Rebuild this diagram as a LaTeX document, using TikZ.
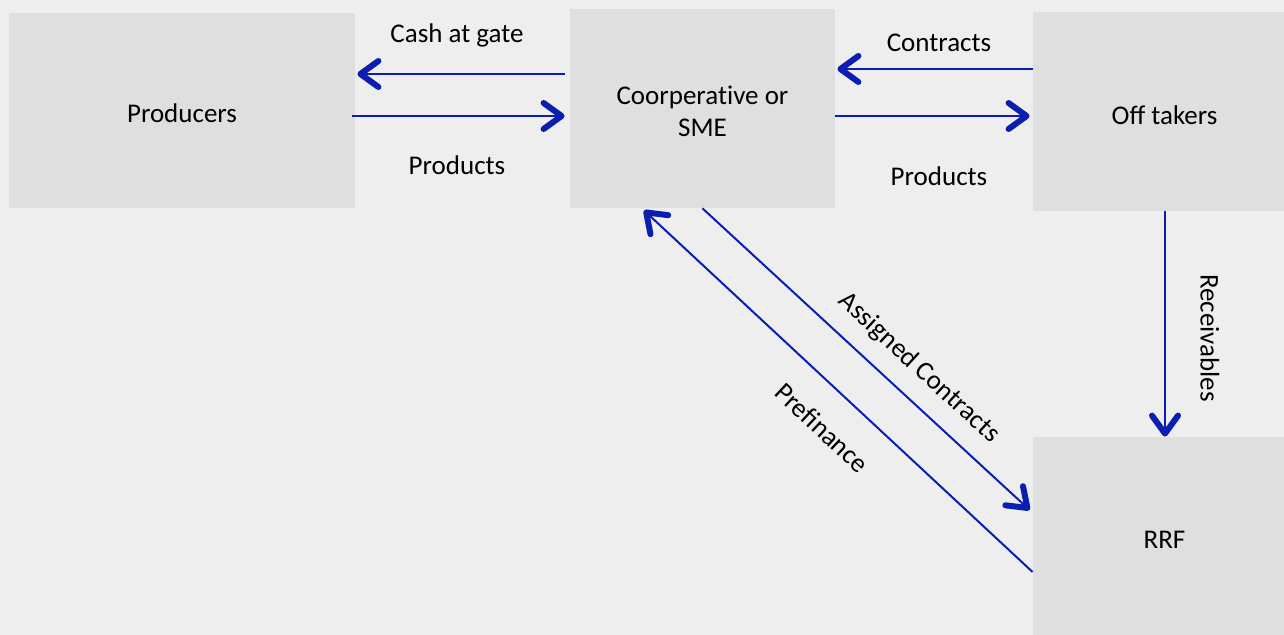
\documentclass[tikz,border=0pt]{standalone}
\usepackage{fontspec}
\setmainfont{Carlito}[RawFeature={-liga;-calt}]
\usetikzlibrary{arrows.meta,calc}
\definecolor{pagebg}{HTML}{EEEEEE}
\definecolor{boxfill}{HTML}{DFDFDF}
\definecolor{flowblue}{HTML}{0A1EB0}
% lower a text without changing the size of its box
\newcommand\sinktext[2]{\raisebox{-#1}[\height][\depth]{#2}}
\tikzset{
  party/.style={fill=boxfill, draw=none, inner sep=0pt,
    font=\fontsize{13.5pt}{16pt}\selectfont},
  flow/.style={draw=flowblue, line width=1pt,
    -{Straight Barb[length=9pt,width=13pt,line width=3pt 0,round]}},
  tag/.style={font=\fontsize{13.5pt}{16pt}\selectfont, inner sep=0pt}
}
\begin{document}
\begin{tikzpicture}[x=0.5pt,y=-0.5pt]
  \fill[pagebg] (0,0) rectangle (1284,635);
  \useasboundingbox (0,0) rectangle (1284,635);

  % parties
  \node[party, minimum width=173pt, minimum height=97.5pt] (prod) at (182,110.5)
    {\sinktext{1.5pt}{Producers}};
  \node[party, minimum width=132.5pt, minimum height=99.5pt] (coop) at (702.5,108.5)
    {\sinktext{3pt}{\begin{tabular}{@{}c@{}}Coorperative or\\SME\end{tabular}}};
  \node[party, minimum width=125.5pt, minimum height=99.5pt] (off) at (1158.5,111.5)
    {\hspace*{6pt}\sinktext{2pt}{Oﬀ takers}};
  \node[party, minimum width=125.5pt, minimum height=99pt] (rrf) at (1158.5,536)
    {\hspace*{6pt}\sinktext{2pt}{RRF}};

  % flows between parties
  \draw[flow] ($(coop.west)+(-5,-34.5)$) -- ($(prod.east)+(2,-36.5)$);
  \draw[flow] ($(prod.east)+(-3,5.5)$) -- ($(coop.west)+(-5,7.5)$);
  \draw[flow] ($(off.west)+(0,-42.5)$) -- ($(coop.east)+(2,-39.5)$);
  \draw[flow] ($(coop.east)+(0,7.5)$) -- ($(off.west)+(-3,4.5)$);
  \draw[flow] ($(off.south)+(6.5,0)$) -- ($(rrf.north)+(6.5,0)$);
  \draw[flow] (coop.south) -- ($(rrf.west)+(-3,-26)$);
  \draw[flow] ($(rrf.west)+(0,36)$) -- ($(coop.south)+(-58.5,2)$);

  % flow labels
  \node[tag] (lcash) at (457,35) {Cash at gate};
  \node[tag] (lprod1) at (457,165) {Products};
  \node[tag] (lcontr) at (939,43) {Contracts};
  \node[tag] (lprod2) at (939,176) {Products};
  \node[tag, rotate=-90] (lrecv) at (1210,338) {Receivables};
  \node[tag, rotate=-42.6] (lassign) at (919,368) {Assigned Contracts};
  \node[tag, rotate=-43] (lprefin) at (822,428) {Preﬁnance};
\end{tikzpicture}
\end{document}
